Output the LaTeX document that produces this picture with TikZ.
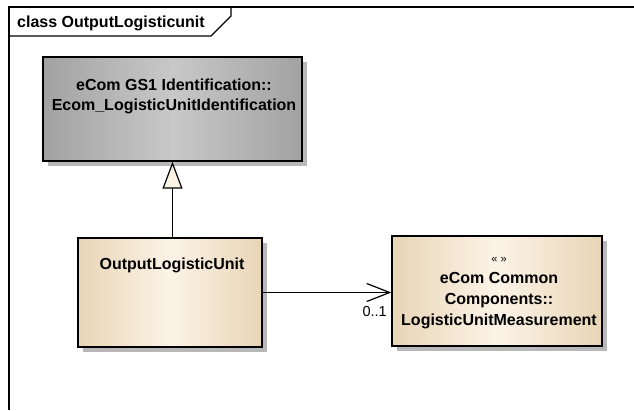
\documentclass[tikz,border=0pt]{standalone}
\usepackage{fontspec}
\setmainfont{Liberation Sans}
\usetikzlibrary{arrows.meta,shadows}
\definecolor{grayL}{HTML}{A2A2A2}
\definecolor{grayM}{HTML}{C8C8C8}
\definecolor{beigeL}{HTML}{E8D5B6}
\definecolor{beigeM}{HTML}{FCF3E7}
\definecolor{shadowc}{HTML}{B8B8B8}
\begin{document}
\begin{tikzpicture}[x=1pt,y=-1pt,
  classbox/.style={draw=black, line width=1.3pt, rectangle, inner sep=0pt,
    drop shadow={shadow xshift=5pt, shadow yshift=-5pt, fill=shadowc, opacity=1}},
  graybox/.style={classbox, left color=grayL, right color=grayL, middle color=grayM},
  beigebox/.style={classbox, left color=beigeL, right color=beigeL, middle color=beigeM},
  lbl/.style={inner sep=0pt, anchor=base, font=\fontsize{16pt}{20pt}\selectfont\bfseries},
  small/.style={inner sep=0pt, anchor=base, font=\fontsize{11pt}{13pt}\selectfont},
  mult/.style={inner sep=0pt, anchor=base east, font=\fontsize{14.5pt}{17pt}\selectfont},
  frameline/.style={draw=black, line width=1.3pt},
  conn/.style={draw=black, line width=1.2pt}
]
\useasboundingbox (0,0) rectangle (634,410);
\fill[white] (0,0) rectangle (634,410);

% frame
\draw[frameline] (9,410) -- (9,7) -- (634,7);
\draw[frameline] (9,36) -- (211,36) -- (231,16) -- (231,7);
\node[lbl, anchor=base west] (title) at (17,27.5) {class OutputLogisticunit};

% classes
\node[graybox, minimum width=259pt, minimum height=104pt] (gen) at (172.5,109) {};
\node[beigebox, minimum width=184pt, minimum height=109pt] (out) at (170,292.5) {};
\node[beigebox, minimum width=210pt, minimum height=110pt] (meas) at (497,291) {};

\node[lbl] (gent1) at (174,90.5) {eCom GS1 Identification::};
\node[lbl] (gent2) at (174,110) {Ecom\_LogisticUnitIdentification};

\node[lbl] (outt) at (172,269) {OutputLogisticUnit};

\node[small] (st) at (499,262) {« »};
\node[lbl] (meast1) at (499,283.5) {eCom Common};
\node[lbl] (meast2) at (499,304) {Components::};
\node[lbl] (meast3) at (499,325) {LogisticUnitMeasurement};

% generalization
\draw[conn, -{Triangle[length=27pt,width=20pt,fill=beigeM,line width=1.2pt]}]
  (gen.south |- out.north) -- (gen.south);

% association
\draw[conn, -{Straight Barb[length=23pt,width=18pt,line width=1.2pt]}]
  (out.east) -- (out.east -| meas.west);
\node[mult] (m1) at (387,316.5) {0..1};
\end{tikzpicture}
\end{document}
